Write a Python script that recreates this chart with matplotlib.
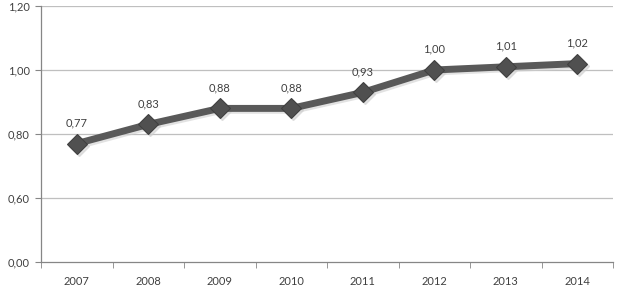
import numpy as np
import matplotlib.pyplot as plt
from matplotlib.ticker import FixedLocator, NullFormatter

years = ["2007", "2008", "2009", "2010", "2011", "2012", "2013", "2014"]
values = [0.77, 0.83, 0.88, 0.88, 0.93, 1.00, 1.01, 1.02]
labels = ["0,77", "0,83", "0,88", "0,88", "0,93", "1,00", "1,01", "1,02"]
ytick_vals = [0.0, 0.6, 0.8, 1.0, 1.2]
ytick_labels = ["0,00", "0,60", "0,80", "1,00", "1,20"]

plt.rcParams['font.family'] = ['Lato', 'DejaVu Sans']


# broken axis: 0..0.6 squeezed into one step, 0.2 per step above
def fwd(v):
    v = np.asarray(v, dtype=float)
    return np.where(v >= 0.6, (v - 0.4) / 0.2, v / 0.6)


def inv(y):
    y = np.asarray(y, dtype=float)
    return np.where(y >= 1, y * 0.2 + 0.4, y * 0.6)


fig = plt.figure(figsize=(6.24, 2.93), dpi=100)
ax = fig.add_axes([41 / 624, 1 - 262 / 293, 572 / 624, 256 / 293])
ax.set_yscale('function', functions=(fwd, inv))

x = np.arange(len(years))
ax.plot(x + 0.03, np.array(values) - 0.006, color='#cfcfcf', lw=5, alpha=0.6,
        marker='D', ms=10, mec='#cfcfcf', zorder=2)
ax.plot(x, values, color='#595959', lw=5, marker='D', ms=10,
        mfc='#505050', mec='#404040', mew=0.8, zorder=3)

for xi, v, lab in zip(x, values, labels):
    ax.annotate(lab, (xi, v), xytext=(0, 11), textcoords='offset points',
                ha='center', va='bottom', fontsize=8, color='#404040')

ax.set_xlim(-0.5, len(years) - 0.5)
ax.set_ylim(0, 1.2)
ax.set_xticks(x)
ax.set_xticklabels(years, fontsize=8, color='#404040')
ax.xaxis.set_minor_locator(FixedLocator(np.arange(-0.5, len(years), 1.0)))
ax.xaxis.set_minor_formatter(NullFormatter())
ax.tick_params(axis='x', which='major', length=0, pad=10)
ax.tick_params(axis='x', which='minor', length=4, color='#868686', direction='out')
ax.yaxis.set_major_locator(FixedLocator(ytick_vals))
ax.set_yticklabels(ytick_labels, fontsize=8, color='#404040')
ax.yaxis.set_minor_locator(FixedLocator([]))
ax.tick_params(axis='y', length=4, color='#868686', pad=4)

for yv in ytick_vals[1:]:
    ax.axhline(yv, color='#bfbfbf', lw=0.9, zorder=1)

for s in ['top', 'right']:
    ax.spines[s].set_visible(False)
for s in ['left', 'bottom']:
    ax.spines[s].set_color('#868686')
    ax.spines[s].set_linewidth(0.9)

fig.savefig('out.png', dpi=100)
